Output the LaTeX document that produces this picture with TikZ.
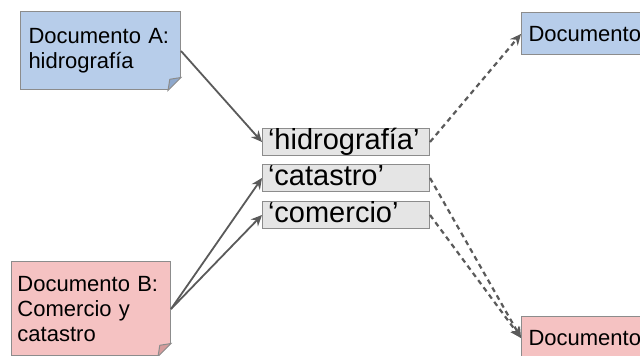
\documentclass[tikz,border=0pt]{standalone}
\usepackage{fontspec}
\setmainfont{Liberation Sans}
\usetikzlibrary{positioning, calc, arrows.meta}

\definecolor{azul}{HTML}{B7CDEA}
\definecolor{azulpliegue}{HTML}{8EA8CC}
\definecolor{rosa}{HTML}{F5C2C2}
\definecolor{rosapliegue}{HTML}{D69C9C}
\definecolor{gristermino}{HTML}{E5E5E5}
\definecolor{borde}{HTML}{8C8C8C}
\definecolor{flecha}{HTML}{5A5A5A}

\begin{document}
\begin{tikzpicture}[
  x=0.5pt, y=-0.5pt,
  doc/.style={draw=borde, line width=0.5pt, align=left, anchor=west,
    inner xsep=4pt, font=\fontsize{11}{12.5}\selectfont},
  termino/.style={draw=borde, fill=gristermino, line width=0.5pt,
    text width=78pt, inner xsep=2.75pt, inner ysep=0pt,
    text height=10.5pt, text depth=3pt, align=left,
    font=\fontsize{14.5}{14.5}\selectfont},
  liga/.style={->, flecha, line width=0.9pt},
  ligaNueva/.style={->, flecha, line width=1.1pt, dash pattern=on 2.5pt off 2pt},
  >={Stealth[length=5.5pt,width=5pt]}
]
  \clip (0,0) rectangle (640,356);

  \node[doc, fill=azul, text width=72pt, minimum height=39pt] (docA) at (20,51)
    {Documento A:\\hidrografía};
  \node[doc, fill=rosa, text width=73.5pt, inner xsep=3pt, minimum height=47pt] (docB) at (11,309)
    {Documento B:\\Comercio y\\catastro};

  \node[termino, anchor=west] (hidro) at (262,142) {‘hidrografía’};
  \node[termino, below=4pt of hidro] (catastro) {‘catastro’};
  \node[termino, below=4.5pt of catastro] (comercio) {‘comercio’};

  \node[doc, fill=azul, text width=100pt, inner xsep=3.5pt, minimum height=21pt] (docC) at (521,34) {Documento};
  \node[doc, fill=rosa, text width=100pt, inner xsep=3.5pt, minimum height=21pt] (docD) at (521,338) {Documento};

  % esquinas dobladas
  \foreach \d/\p in {docA/azulpliegue, docB/rosapliegue} {
    \fill[white] ([shift={(-7.1pt,-0.6pt)}]\d.south east) -- ([shift={(0.6pt,-0.6pt)}]\d.south east)
      -- ([shift={(0.6pt,7.1pt)}]\d.south east) -- cycle;
    \filldraw[fill=\p, draw=borde, line width=0.5pt] ([xshift=-6.5pt]\d.south east)
      -- ([yshift=6.5pt]\d.south east) -- ([shift={(-5.6pt,5.6pt)}]\d.south east) -- cycle;
  }

  \draw[liga] (docA.east) -- (hidro.west);
  \draw[liga] (docB.east) -- (catastro.west);
  \draw[liga] (docB.east) -- (comercio.west);

  \draw[ligaNueva] (hidro.east) -- (docC.west);
  \draw[ligaNueva] (catastro.east) -- (docD.west);
  \draw[ligaNueva] (comercio.east) -- (docD.west);
\end{tikzpicture}
\end{document}
